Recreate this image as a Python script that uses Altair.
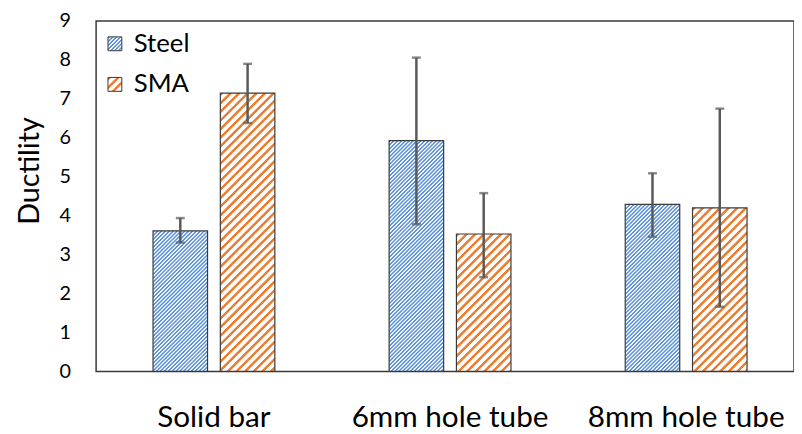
import altair as alt
import pandas as pd

# ---------------- data ----------------
categories = ["Solid bar", "6mm hole tube", "8mm hole tube"]
series = ["Steel", "SMA"]
steel_mean = [3.61, 5.93, 4.29]
steel_low = [3.31, 3.78, 3.46]
steel_high = [3.94, 8.06, 5.09]
sma_mean = [7.15, 3.53, 4.20]
sma_low = [6.38, 2.42, 1.66]
sma_high = [7.90, 4.58, 6.75]
y_ticks = [0, 1, 2, 3, 4, 5, 6, 7, 8, 9]

rows = []
for i, c in enumerate(categories):
    rows.append(dict(category=c, series="Steel", value=steel_mean[i], lo=steel_low[i], hi=steel_high[i]))
    rows.append(dict(category=c, series="SMA", value=sma_mean[i], lo=sma_low[i], hi=sma_high[i]))
df = pd.DataFrame(rows)

# ---------------- layout / style ----------------
W, H = 705, 354
YMAX = 9
FONT = "Lato"
TEXT = "#000000"
FRAME = "#3a3a3a"
ERR = "#595959"
L = 360.0          # gradient length in px along x+y
BAR_W = 55.07      # pixel width of one bar (from band scales below)

STYLE = {
    "Steel": dict(color="#5f93da", period=3.9, frac=0.55),
    "SMA": dict(color="#ed7d31", period=8.7, frac=0.4),
}


def stop_list(s):
    st = STYLE[s]
    color, period, frac = st["color"], st["period"], st["frac"]
    ramp = 0.45
    out = []
    x = 0.0
    while x < L:
        b = x + frac * period
        out += [(x + ramp, color), (b - ramp, color), (b + ramp, "#ffffff"), (x + period - ramp, "#ffffff")]
        x += period
    return [dict(offset=round(min(o / L, 1.0), 5), color=c) for o, c in out]


def gradient(s, w, h):
    d = w * w + h * h
    return dict(gradient="linear", x1=0, y1=0, x2=w * L / d, y2=h * L / d, stops=stop_list(s))


def gradient_expr(s, w, h):
    g = gradient(s, w, h)
    stops = ",".join("{offset:%s,color:'%s'}" % (st["offset"], st["color"]) for st in g["stops"])
    return "{gradient:'linear',x1:0,y1:0,x2:%s,y2:%s,stops:[%s]}" % (g["x2"], g["y2"], stops)


x_enc = alt.X(
    "category:N",
    scale=alt.Scale(domain=categories, paddingInner=0.484, paddingOuter=0.22, align=0.548),
    axis=alt.Axis(title=None, labelFont=FONT, labelFontSize=30, labelColor=TEXT,
                  labelPadding=56, labelBaseline="alphabetic", labelLimit=0, ticks=False, tickSize=0,
                  domain=False, labelAngle=0),
)
xo_enc = alt.XOffset("series:N", scale=alt.Scale(domain=series, paddingInner=0.19, paddingOuter=0))
y_scale = alt.Scale(domain=[0, YMAX], nice=False)
y_axis = alt.Axis(title="Ductility", values=y_ticks, grid=False, ticks=False, tickSize=0, domain=False,
                  labelOverlap=False, labelFont=FONT, labelFontSize=20, labelColor=TEXT, labelPadding=26,
                  titleFont=FONT, titleFontSize=29, titleColor=TEXT, titleFontWeight="normal",
                  titleX=-67, titleY=151, titleAngle=-90, titleAlign="center", titleBaseline="middle")

base = alt.Chart(df)

layers = []
for i, c in enumerate(categories):
    for s, means in (("Steel", steel_mean), ("SMA", sma_mean)):
        h = means[i] * H / YMAX
        layers.append(
            base.transform_filter(f"datum.category == '{c}' && datum.series == '{s}'")
            .mark_bar(fill=gradient(s, BAR_W, h), stroke=FRAME, strokeWidth=1.2)
            .encode(x=x_enc, xOffset=xo_enc, y=alt.Y("value:Q", scale=y_scale, axis=y_axis))
        )

# invisible points that carry the legend (patterned swatches)
legend_expr = "datum.value === 'Steel' ? %s : %s" % (gradient_expr("Steel", 14, 14), gradient_expr("SMA", 14, 14))
legend_layer = base.mark_point(filled=True, fill=alt.ExprRef(legend_expr), stroke=FRAME, strokeWidth=1,
                               opacity=0, size=196).encode(
    x=x_enc, xOffset=xo_enc, y=alt.Y("value:Q", scale=y_scale, axis=y_axis),
    shape=alt.Shape("series:N", scale=alt.Scale(domain=series, range=["square", "square"]),
                    legend=alt.Legend(title=None, orient="none", legendX=6, legendY=10, padding=0,
                                      symbolSize=196, symbolStrokeWidth=1, symbolOpacity=1,
                                      symbolType="square",
                                      labelFont=FONT, labelFontSize=26, labelColor=TEXT,
                                      labelOffset=6, rowPadding=15)),
)

err_rule = base.mark_rule(color=ERR, strokeWidth=2.5).encode(
    x=x_enc, xOffset=xo_enc, y=alt.Y("lo:Q", scale=y_scale, axis=y_axis), y2="hi:Q")
cap_top = base.mark_tick(color=ERR, size=9, thickness=2.5, orient="horizontal").encode(
    x=x_enc, xOffset=xo_enc, y=alt.Y("hi:Q", scale=y_scale, axis=y_axis))
cap_bot = base.mark_tick(color=ERR, size=9, thickness=2.5, orient="horizontal").encode(
    x=x_enc, xOffset=xo_enc, y=alt.Y("lo:Q", scale=y_scale, axis=y_axis))

chart = alt.layer(*layers, legend_layer, err_rule, cap_top, cap_bot).properties(
    width=W, height=H,
    autosize=alt.AutoSizeParams(type="none"),
    padding={"left": 89, "top": 11, "right": 0, "bottom": 60},
).configure_view(stroke=FRAME, strokeWidth=1.5)

chart.save("out.html", embed_options={"renderer": "svg", "actions": False})
